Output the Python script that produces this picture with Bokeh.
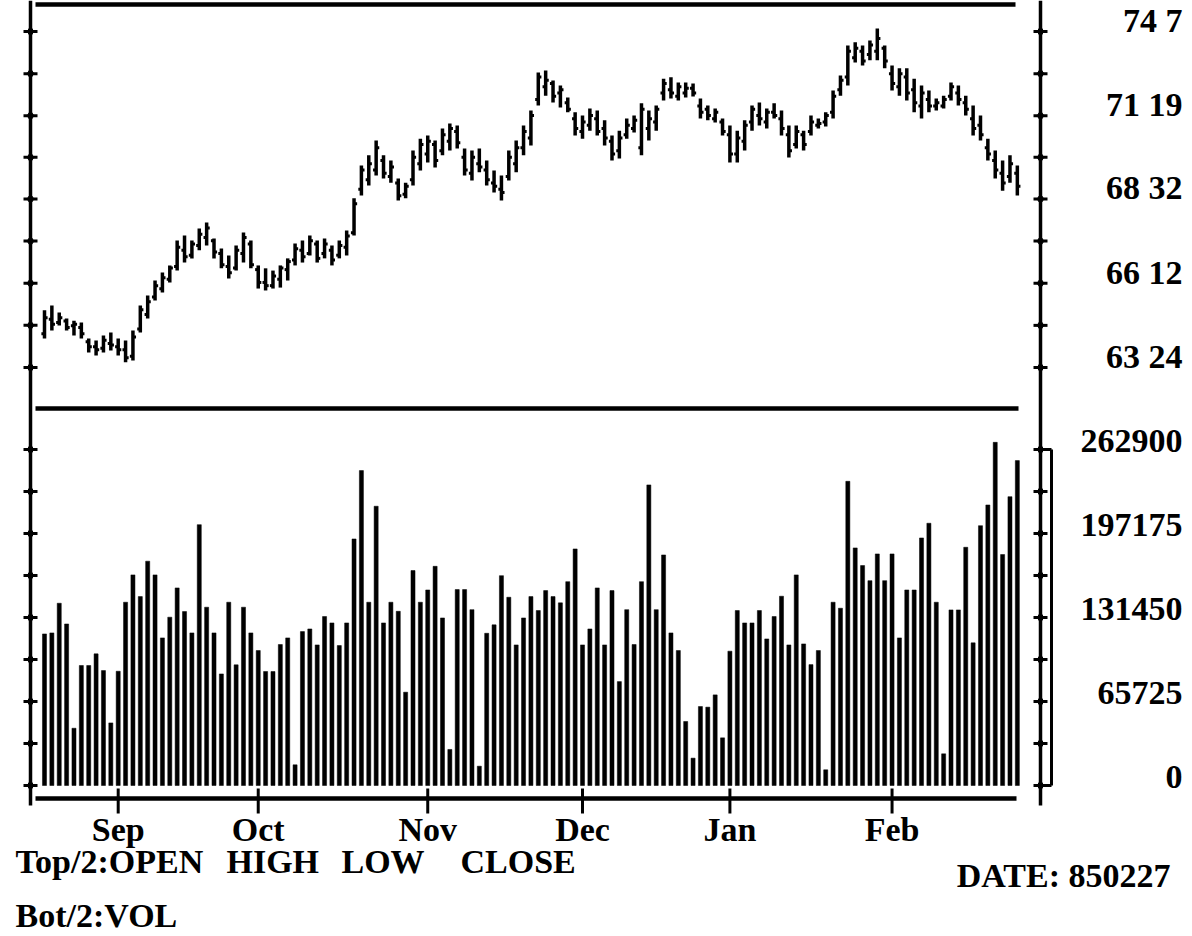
import numpy as np
from bokeh.plotting import figure
from bokeh.models import Range1d, ColumnDataSource
from bokeh.core.properties import value
from bokeh.embed import file_html
from bokeh.resources import INLINE

# ---------------- data ----------------
high = [65.53,65.68,65.46,65.28,65.21,65.15,64.65,64.59,64.75,64.84,
        64.65,64.59,64.90,65.68,65.99,66.46,66.71,66.93,67.71,67.86,
        67.71,68.08,68.27,67.77,67.46,67.24,67.55,67.96,67.71,66.93,
        66.84,66.77,66.93,67.15,67.61,67.71,67.86,67.71,67.77,67.55,
        67.71,68.02,69.02,70.04,70.36,70.82,70.36,70.20,69.64,69.51,
        70.51,70.88,70.98,70.82,71.20,71.35,71.29,70.57,70.51,70.57,
        70.20,69.89,69.73,70.51,70.82,71.29,71.76,72.94,73.00,72.69,
        72.54,72.16,71.70,71.60,71.82,71.76,71.45,70.98,71.13,71.51,
        71.60,71.98,71.76,71.91,72.75,72.79,72.63,72.63,72.60,72.13,
        71.91,71.82,71.51,71.29,71.13,71.45,71.91,72.01,71.82,71.98,
        71.76,71.29,71.29,71.13,71.60,71.51,71.70,72.38,72.85,73.78,
        73.88,73.78,73.94,74.31,73.78,73.16,73.07,73.07,72.75,72.54,
        72.38,72.13,72.22,72.63,72.54,72.22,71.91,71.60,70.88,70.51,
        70.20,70.36,70.04]
low = [64.65,64.90,65.06,64.90,64.75,64.65,64.22,64.12,64.22,64.28,
       64.12,63.91,63.97,64.84,65.28,65.84,66.09,66.40,66.77,67.02,
       67.15,67.40,67.55,67.15,66.84,66.52,66.77,67.02,66.84,66.21,
       66.15,66.21,66.24,66.46,66.93,67.02,67.24,67.02,67.15,66.93,
       67.15,67.24,67.86,69.11,69.42,69.73,69.64,69.51,68.95,69.02,
       69.42,69.89,70.14,69.98,70.36,70.51,70.57,69.73,69.58,69.83,
       69.42,69.20,68.95,69.58,69.83,70.36,70.67,71.91,72.22,72.01,
       71.85,71.70,70.98,70.88,71.13,70.98,70.67,70.20,70.26,70.88,
       71.07,70.36,70.82,71.13,72.07,72.13,72.07,72.16,72.19,71.51,
       71.45,71.38,70.98,70.14,70.14,70.51,71.13,71.29,71.20,71.51,
       70.98,70.29,70.57,70.51,70.98,71.20,71.26,71.51,72.22,72.54,
       73.25,73.16,73.32,73.32,73.07,72.38,72.22,72.07,71.70,71.51,
       71.70,71.76,71.82,72.07,71.91,71.60,70.98,70.82,70.20,69.64,
       69.26,69.51,69.11]
open_ = [64.80,65.25,65.15,65.20,65.05,65.00,64.55,64.40,64.35,64.50,
         64.40,64.30,64.10,64.95,65.40,65.95,66.20,66.50,66.90,67.40,
         67.25,67.55,67.80,67.70,67.30,66.90,66.85,67.30,67.60,66.80,
         66.40,66.30,66.50,66.80,67.10,67.40,67.30,67.60,67.30,67.40,
         67.25,67.50,67.95,69.30,69.60,69.90,70.20,69.70,69.50,69.15,
         69.60,70.10,70.40,70.70,70.50,70.80,71.10,70.30,69.80,70.10,
         69.90,69.50,69.30,69.70,70.10,70.60,70.90,72.10,72.50,72.60,
         72.30,72.00,71.50,71.10,71.30,71.50,71.20,70.80,70.50,71.00,
         71.20,70.60,71.20,71.40,72.30,72.40,72.20,72.30,72.45,71.90,
         71.80,71.50,71.40,71.00,70.40,70.80,71.40,71.60,71.40,71.70,
         71.50,71.00,70.70,71.00,71.10,71.30,71.40,71.70,72.40,72.80,
         73.40,73.60,73.50,73.60,73.70,72.90,72.50,72.80,72.40,71.90,
         72.10,71.90,71.90,72.20,72.30,72.00,71.50,71.30,70.60,70.20,
         69.80,69.70,69.80]
close = [65.30,65.10,65.30,65.00,65.10,64.80,64.40,64.30,64.60,64.45,
         64.30,64.05,64.70,65.55,65.80,66.30,66.55,66.85,67.50,67.20,
         67.60,67.90,68.10,67.35,66.95,66.70,67.40,67.80,66.95,66.40,
         66.30,66.60,66.85,67.05,67.45,67.20,67.70,67.15,67.60,67.10,
         67.55,67.85,68.85,69.90,70.10,70.60,69.80,70.00,69.10,69.40,
         70.30,70.70,70.80,70.20,71.00,71.20,70.75,69.90,70.30,70.00,
         69.60,69.40,69.20,70.30,70.60,71.10,71.60,72.80,72.70,72.20,
         72.40,71.80,71.20,71.40,71.60,71.10,70.90,70.40,70.90,71.30,
         71.45,71.80,71.50,71.80,72.60,72.30,72.50,72.45,72.30,71.70,
         71.60,71.70,71.10,70.40,70.90,71.30,71.80,71.50,71.70,71.60,
         71.20,70.50,71.10,70.70,71.40,71.35,71.60,72.20,72.70,73.60,
         73.70,73.30,73.80,74.00,73.30,72.60,72.90,72.30,72.00,72.30,
         71.90,72.00,72.10,72.50,72.10,71.80,71.20,71.00,70.40,69.90,
         69.50,70.10,69.40]
volume = [118600,119400,142600,126400,44800,93900,93900,103000,89900,49000,
          89400,143400,164800,147800,175500,164800,115500,131700,154600,136100,
          119400,204100,139500,119400,87300,143400,94400,139500,119400,105600,
          89200,89200,110300,115500,16200,120400,122500,110000,132200,127200,
          109500,127200,192900,246400,143400,218500,127200,143400,136300,73000,
          168200,143400,153000,171500,131100,28200,153300,153300,137600,15100,
          119100,125700,164200,147300,110000,131100,147800,136900,152500,147800,
          142900,159500,185100,110000,122500,154600,110000,152500,81300,137600,
          110300,159500,235200,137600,180400,119400,105600,50100,21400,61800,
          61300,70900,37300,105100,136900,127200,127200,136900,114700,132200,
          148100,110000,164800,110800,94600,105600,12300,143400,138700,238000,
          185900,172100,160300,181200,160300,181200,115500,153000,153000,193700,
          205200,143400,24800,137400,137400,186400,111600,203300,219500,268500,
          180700,226000,254200]

month_labels = ["Sep", "Oct", "Nov", "Dec", "Jan", "Feb"]
month_start_idx = [10, 29, 52, 73, 93, 115]
price_ticks = [63.75, 66.375, 69.0, 71.59375, 74.21875]
price_tick_labels = ["63 24", "66 12", "68 32", "71 19", "74 7"]
vol_ticks = [0, 65725, 131450, 197175, 262900]
vol_tick_labels = ["0", "65725", "131450", "197175", "262900"]
legend_top = ["Top/2:OPEN", "HIGH", "LOW", "CLOSE"]
legend_bottom = ["Bot/2:VOL"]
date_text = ["DATE: 850227"]

# ---------------- layout helpers (picture pixel -> data) ----------------
W, H = 1192, 936
X0_PX, DX_PX = 44.0, 7.37
def X(px):
    return (px - X0_PX) / DX_PX
P0_PX = 367.0
P_PER_PX = (price_ticks[-1] - price_ticks[0]) / 336.0
def P(py):
    return price_ticks[0] + (P0_PX - py) * P_PER_PX
V0_PX = 785.0
V_PER_PX = vol_ticks[-1] / 336.0
def V(py):
    return (V0_PX - py) * V_PER_PX

FONT = value("Liberation Serif")
FS = "34px"
INK = "#000000"

p = figure(width=W, height=H, output_backend="svg", toolbar_location=None,
           x_range=Range1d(X(0), X(W)), y_range=Range1d(P(H), P(0)),
           x_axis_location=None, y_axis_location=None, min_border=0,
           outline_line_color=None, background_fill_color="white",
           border_fill_color="white")
p.extra_y_ranges = {"vol": Range1d(V(H), V(0))}
p.grid.visible = False

idx = np.arange(len(high))
src = ColumnDataSource(dict(x=idx, xo=idx - 0.42, xc=idx + 0.42, hi=high, lo=low,
                            op=open_, cl=close, vol=volume))

# OHLC bars
p.segment("x", "lo", "x", "hi", source=src, line_color=INK, line_width=3.5)
p.segment("xo", "op", "x", "op", source=src, line_color=INK, line_width=3)
p.segment("x", "cl", "xc", "cl", source=src, line_color=INK, line_width=3)

# volume bars
p.vbar(x="x", top="vol", bottom=0, width=0.55, source=src, y_range_name="vol",
       fill_color=INK, line_color=INK, line_width=0.5)

# frame lines
p.segment(x0=[X(35), X(35), X(35)], y0=[P(4), P(408), P(798)],
          x1=[X(1015), X(1018), X(1016)], y1=[P(4), P(408), P(798)],
          line_color=INK, line_width=4.5)

# left and right vertical axes
p.segment(x0=[X(30), X(1040)], y0=[P(0), P(0)], x1=[X(30), X(1040)],
          y1=[P(805), P(805)], line_color=INK, line_width=3.5)

# axis ticks (major + minor)
pt = list(price_ticks)
pt_all = sorted(pt + [(a + b) / 2 for a, b in zip(pt[:-1], pt[1:])])
vt = list(vol_ticks)
vt_all = sorted(vt + [(a + b) / 2 for a, b in zip(vt[:-1], vt[1:])])
for ax_px in (30, 1040):
    p.segment(x0=[X(ax_px - 7)] * len(pt_all), y0=pt_all,
              x1=[X(ax_px + 7)] * len(pt_all), y1=pt_all,
              line_color=INK, line_width=3)
    p.scatter([X(ax_px)] * len(pt_all), pt_all, marker="diamond", size=10,
              color=INK)
    p.segment(x0=[X(ax_px - 7)] * len(vt_all), y0=vt_all,
              x1=[X(ax_px + 7)] * len(vt_all), y1=vt_all,
              line_color=INK, line_width=3, y_range_name="vol")
    p.scatter([X(ax_px)] * len(vt_all), vt_all, marker="diamond", size=10,
              color=INK, y_range_name="vol")

# volume scale bracket on the right
p.segment(x0=[X(1051), X(1040), X(1040)], y0=[0, 0, vol_ticks[-1]],
          x1=[X(1051), X(1051), X(1051)], y1=[vol_ticks[-1], 0, vol_ticks[-1]],
          line_color=INK, line_width=3, y_range_name="vol")

# month ticks on the time axis
p.segment(x0=month_start_idx, y0=[P(788)] * 6, x1=month_start_idx,
          y1=[P(813)] * 6, line_color=INK, line_width=3)

txt = dict(text_font=FONT, text_font_size=FS, text_font_style="bold",
           text_baseline="middle", text_color=INK)

# right-hand labels
p.text(x=[X(1182)] * len(pt), y=pt, text=price_tick_labels, text_align="right",
       y_offset=-11, **txt)
p.text(x=[X(1182)] * len(vt), y=vt, text=vol_tick_labels, text_align="right",
       y_offset=-9, y_range_name="vol", **txt)

# month labels
p.text(x=month_start_idx, y=[P(829)] * 6, text=month_labels, text_align="center",
       **txt)

# legend / footer texts
p.text(x=[X(15), X(226), X(341), X(460)], y=[P(861)] * 4, text=legend_top,
       text_align="left", **txt)
p.text(x=[X(15)], y=[P(915)], text=legend_bottom, text_align="left", **txt)
p.text(x=[X(1170)], y=[P(875)], text=date_text, text_align="right", **txt)

open("out.html", "w").write(file_html(p, INLINE))
